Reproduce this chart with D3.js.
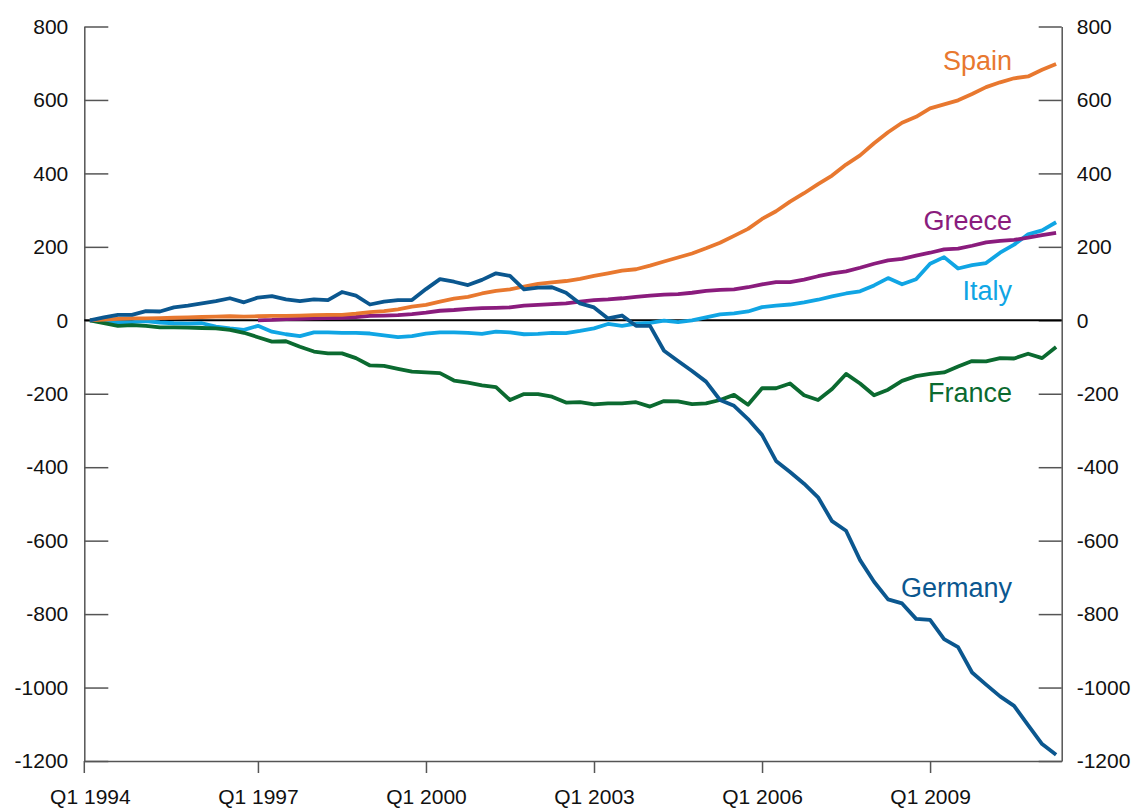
<!DOCTYPE html>
<html>
<head>
<meta charset="utf-8">
<script src="https://cdn.jsdelivr.net/npm/d3@7"></script>
<style>
  body { margin: 0; background: #fff; }
  svg text { font-family: "Liberation Sans", Arial, sans-serif; }
</style>
</head>
<body>
<svg id="chart" width="1137" height="810"></svg>
<script>
// quarterly, Q1 1994 .. Q2 2011 (70 quarters)
const quarterTicks = [0, 12, 24, 36, 48, 60];
const quarterLabels = ["Q1 1994", "Q1 1997", "Q1 2000", "Q1 2003", "Q1 2006", "Q1 2009"];
const yTicks = [800, 600, 400, 200, 0, -200, -400, -600, -800, -1000, -1200];

const germany = [0, 8, 15, 15, 25, 24, 35, 40, 46, 52, 60, 49, 62, 66, 57, 52, 57, 55, 77, 67,
  43, 51, 55, 55, 85, 112, 105, 96, 110, 128, 121, 84, 89, 90, 75, 46, 35, 5, 13, -15,
  -15, -83, -111, -138, -167, -217, -233, -269, -312, -383, -413, -445, -482, -547, -573, -653, -712, -760, -771, -813,
  -816, -868, -890, -959, -992, -1024, -1050, -1102, -1154, -1183];
const spain = [0, 2, 4, 5, 5, 6, 7, 8, 9, 10, 11, 10, 11, 12, 12, 13, 14, 15, 15, 18,
  22, 25, 30, 37, 42, 51, 59, 64, 73, 80, 84, 92, 99, 103, 107, 113, 121, 128, 135, 139,
  149, 160, 171, 182, 196, 211, 230, 249, 276, 297, 323, 346, 371, 394, 424, 449, 482, 512, 538, 554,
  577, 588, 599, 616, 635, 648, 659, 664, 682, 698];
const greece = [null, null, null, null, null, null, null, null, null, null, null, null, 0, 1, 3, 4, 5, 6, 7, 9,
  12, 13, 14, 17, 21, 26, 28, 31, 33, 34, 35, 40, 42, 44, 46, 51, 55, 57, 60, 64,
  67, 70, 71, 75, 80, 83, 84, 90, 98, 104, 104, 111, 120, 128, 133, 143, 154, 163, 167, 176,
  184, 193, 195, 203, 212, 216, 219, 225, 232, 238];
const italy = [0, -4, -5, -5, -2, -6, -8, -9, -8, -17, -22, -26, -15, -31, -38, -43, -33, -33, -34, -34,
  -36, -41, -46, -43, -36, -33, -33, -34, -37, -31, -33, -38, -37, -34, -35, -29, -22, -10, -15, -9,
  -7, -1, -5, 0, 8, 16, 19, 24, 36, 40, 43, 49, 56, 65, 73, 79, 95, 115, 98, 112,
  154, 172, 141, 150, 156, 184, 206, 234, 245, 267];
const france = [0, -8, -15, -13, -15, -19, -19, -20, -21, -22, -26, -34, -46, -58, -57, -72, -85, -90, -90, -103,
  -123, -124, -132, -140, -142, -144, -164, -170, -177, -182, -217, -201, -201, -208, -224, -223, -229, -226, -226, -223,
  -235, -220, -221, -228, -226, -217, -203, -230, -185, -185, -172, -204, -217, -187, -146, -172, -204, -189, -165, -152,
  -146, -142, -126, -111, -112, -103, -104, -91, -103, -73];

const seriesNames = ["Germany", "France", "Italy", "Greece", "Spain"];
const seriesColors = ["#0b578f", "#0b6a30", "#10a5e4", "#8a1c7d", "#e8782f"];
const seriesValues = [germany, france, italy, greece, spain];
// label baselines, in data units
const labelValues = [-753, -223, 56, 245, 682];

const svg = d3.select("#chart");

const x = d3.scaleLinear().domain([-0.4, 69.4]).range([84.3, 1061.7]);
const y = d3.scaleLinear().domain([-1200, 800]).range([761, 26.5]);

const axisColor = "#555";
const fmt = d => String(d);   // plain hyphen minus like the original

// left axis
const gl = svg.append("g")
  .attr("transform", `translate(${x(-0.4)},0)`)
  .call(d3.axisLeft(y).tickValues(yTicks).tickSize(-24).tickSizeOuter(0).tickPadding(16).tickFormat(fmt));

// right axis
const gr = svg.append("g")
  .attr("transform", `translate(${x(69.4)},0)`)
  .call(d3.axisRight(y).tickValues(yTicks).tickSize(-23).tickSizeOuter(0).tickPadding(15).tickFormat(fmt));

// bottom axis
const gb = svg.append("g")
  .attr("transform", `translate(0,${y(-1200)})`)
  .call(d3.axisBottom(x).tickValues(quarterTicks).tickSize(12).tickSizeOuter(0).tickPadding(16)
    .tickFormat((d, i) => quarterLabels[i]));
gb.selectAll(".tick line").filter(d => d === 0).remove();

// left axis runs down past the bottom like a tick
svg.append("line")
  .attr("x1", x(-0.4)).attr("x2", x(-0.4))
  .attr("y1", y(-1200)).attr("y2", y(-1200) + 12)
  .attr("stroke", axisColor).attr("stroke-width", 1.5);

[gl, gr, gb].forEach(g => {
  g.selectAll("path.domain").attr("stroke", axisColor).attr("stroke-width", 1.5);
  g.selectAll(".tick line").attr("stroke", axisColor).attr("stroke-width", 1.5);
  g.selectAll("text").attr("font-size", 21).attr("fill", "#111")
    .style("font-family", "'Liberation Sans', Arial, sans-serif");
});

// zero line
svg.append("line")
  .attr("x1", x(-0.4)).attr("x2", x(69.4))
  .attr("y1", y(0)).attr("y2", y(0))
  .attr("stroke", "#000").attr("stroke-width", 2);

const line = d3.line()
  .defined(d => d != null)
  .x((d, i) => x(i))
  .y(d => y(d));

const order = [2, 1, 3, 4, 0];
order.forEach(k => {
  svg.append("path")
    .datum(seriesValues[k])
    .attr("fill", "none")
    .attr("stroke", seriesColors[k])
    .attr("stroke-width", 3.8)
    .attr("stroke-linejoin", "round")
    .attr("d", line);
});

seriesNames.forEach((name, k) => {
  svg.append("text")
    .attr("x", 1012)
    .attr("y", y(labelValues[k]))
    .attr("text-anchor", "end")
    .attr("font-size", 27)
    .attr("fill", seriesColors[k])
    .text(name);
});
</script>
</body>
</html>
